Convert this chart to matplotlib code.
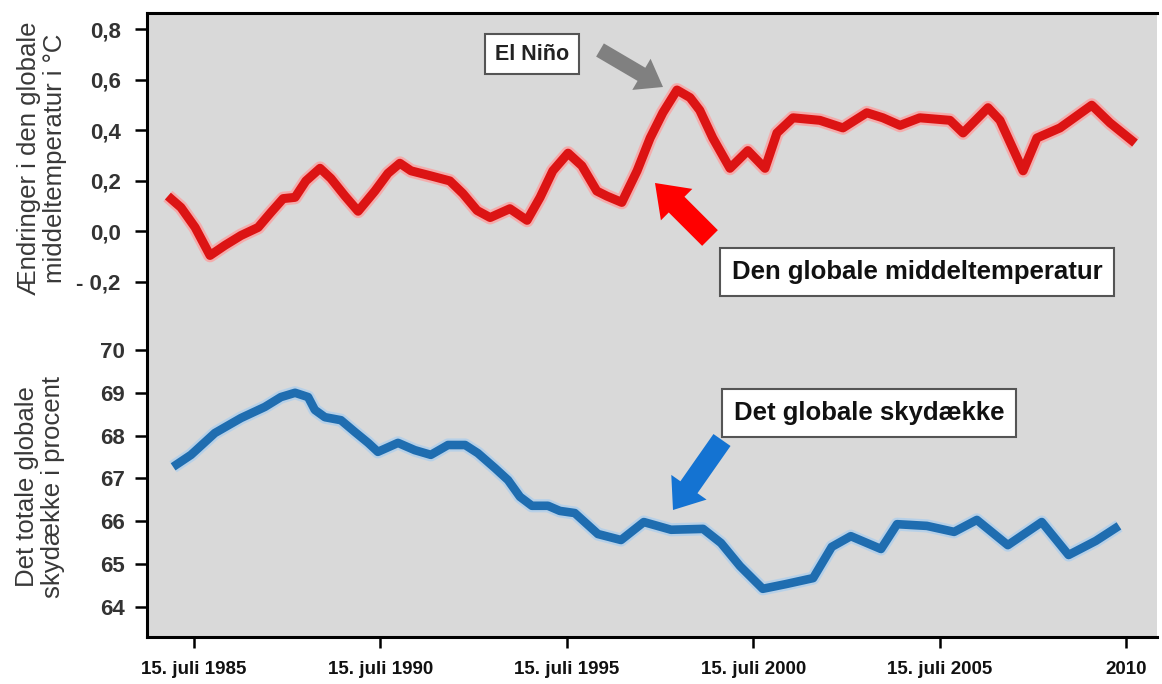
import matplotlib.pyplot as plt
from matplotlib import patheffects

# change in global mean temperature (deg C)
tempYears = [1984.84, 1985.19, 1985.57, 1985.97, 1986.37, 1986.80, 1987.26, 1987.60,
             1987.93, 1988.25, 1988.54, 1988.92, 1989.21, 1989.59, 1989.94, 1990.39,
             1990.74, 1991.06, 1991.36, 1991.89, 1992.40, 1992.75, 1993.13, 1993.48,
             1994.01, 1994.47, 1994.82, 1995.16, 1995.57, 1995.94, 1996.34, 1996.61,
             1997.01, 1997.42, 1997.77, 1998.11, 1998.49, 1998.84, 1999.10, 1999.45,
             1999.91, 2000.39, 2000.85, 2001.17, 2001.60, 2002.32, 2002.94, 2003.58,
             2004.01, 2004.47, 2005.00, 2005.81, 2006.16, 2006.83, 2007.15, 2007.77,
             2008.14, 2008.76, 2009.61, 2010.10, 2010.77]
tempValues = [0.14, 0.095, 0.016, -0.095, -0.055, -0.016, 0.016, 0.075,
              0.13, 0.135, 0.20, 0.25, 0.21, 0.14, 0.08, 0.16,
              0.23, 0.27, 0.24, 0.22, 0.20, 0.15, 0.083, 0.055,
              0.09, 0.044, 0.135, 0.24, 0.31, 0.26, 0.16, 0.14,
              0.115, 0.24, 0.37, 0.47, 0.56, 0.53, 0.48, 0.37,
              0.25, 0.32, 0.25, 0.39, 0.45, 0.44, 0.41, 0.47,
              0.45, 0.42, 0.45, 0.44, 0.39, 0.49, 0.44, 0.24,
              0.37, 0.41, 0.50, 0.43, 0.35]

# total global cloud cover (percent)
cloudYears = [1984.98, 1985.46, 1986.10, 1986.80, 1987.44, 1987.87, 1988.25, 1988.60,
              1988.78, 1989.05, 1989.48, 1989.86, 1990.21, 1990.47, 1991.01, 1991.46,
              1991.89, 1992.35, 1992.81, 1993.15, 1993.61, 1993.96, 1994.28, 1994.60,
              1995.03, 1995.35, 1995.75, 1996.37, 1996.99, 1997.60, 1998.33, 1999.19,
              1999.67, 2000.18, 2000.79, 2001.41, 2002.14, 2002.64, 2003.15, 2003.96,
              2004.39, 2005.19, 2005.92, 2006.53, 2007.36, 2008.27, 2008.99, 2009.72,
              2010.34]
cloudValues = [67.27, 67.55, 68.06, 68.41, 68.67, 68.90, 69.00, 68.90,
               68.60, 68.43, 68.36, 68.08, 67.83, 67.62, 67.83, 67.66,
               67.55, 67.78, 67.78, 67.59, 67.24, 66.96, 66.57, 66.36,
               66.36, 66.24, 66.19, 65.70, 65.56, 65.98, 65.80, 65.82,
               65.49, 64.95, 64.42, 64.53, 64.67, 65.40, 65.65, 65.35,
               65.93, 65.89, 65.75, 66.03, 65.44, 65.98, 65.21, 65.54,
               65.89]

tickYears = [1985, 1990, 1995, 2000, 2005, 2010]
tickLabels = ['15. juli 1985', '15. juli 1990', '15. juli 1995',
              '15. juli 2000', '15. juli 2005', '2010']
tempTicks = [-0.2, 0.0, 0.2, 0.4, 0.6, 0.8]
tempTickLabels = ['- 0,2', '0,0', '0,2', '0,4', '0,6', '0,8']
cloudTicks = [64, 65, 66, 67, 68, 69, 70]

W, H = 1162, 684
julyFifteenth = 0.54  # fraction of the year at 15 July


def figPos(x, y):
    # pixel position in the picture -> figure fraction
    return x / W, 1 - y / H


plt.rcParams['font.family'] = ['Liberation Sans', 'DejaVu Sans']

fig = plt.figure(figsize=(W / 100, H / 100), dpi=100)
ax = fig.add_axes([147 / W, 47 / H, 1010 / W, 624 / H])
ax.set_facecolor('#d9d9d9')
ax2 = ax.twinx()

# temperature on the upper half, cloud cover on the lower half
ax.set_xlim(1984.28, 2011.36)
ax.set_ylim(-1.606, 0.865)
ax2.set_ylim(63.294, 77.874)

redGlow = [patheffects.Stroke(linewidth=10, foreground='#ff9a9a', alpha=0.7), patheffects.Normal()]
blueGlow = [patheffects.Stroke(linewidth=9.5, foreground='#a9cdee', alpha=0.7), patheffects.Normal()]

ax.plot(tempYears, tempValues, color='#dc1414', linewidth=6.5,
        solid_joinstyle='round', solid_capstyle='butt', path_effects=redGlow)
ax2.plot(cloudYears, cloudValues, color='#1f6db0', linewidth=6.2,
         solid_joinstyle='round', solid_capstyle='butt', path_effects=blueGlow)

# axes frame
for side in ['left', 'bottom', 'top']:
    ax.spines[side].set_linewidth(2.2)
    ax.spines[side].set_color('black')
ax.spines['right'].set_visible(False)
for side in ax2.spines:
    ax2.spines[side].set_visible(False)

ax.set_xticks([y + julyFifteenth for y in tickYears])
ax.set_xticklabels(tickLabels, fontsize=13.5, fontweight='bold', color='#111111')
ax.tick_params(axis='x', direction='out', length=8, width=1.8, pad=9)

ax.set_yticks(tempTicks)
ax.set_yticklabels(tempTickLabels, fontsize=16, fontweight='bold', color='#333333')
ax.tick_params(axis='y', direction='out', length=9, width=1.8, pad=10)

ax2.yaxis.tick_left()
ax2.set_yticks(cloudTicks)
ax2.set_yticklabels([str(t) for t in cloudTicks], fontsize=16, fontweight='bold', color='#333333')
ax2.tick_params(axis='y', direction='out', length=9, width=1.8, pad=7)

# y-axis titles
fig.text(*figPos(42, 158), 'Ændringer i den globale\nmiddeltemperatur i °C', rotation=90,
         ha='center', va='center', multialignment='center', fontsize=18.5,
         color='#383838', linespacing=1.15)
fig.text(*figPos(40, 487), 'Det totale globale\nskydække i procent', rotation=90,
         ha='center', va='center', multialignment='center', fontsize=18.5,
         color='#383838', linespacing=1.15)

# labelled boxes
boxStyle = dict(boxstyle='square,pad=0.45', fc='white', ec='#555555', lw=1.5)
fig.text(*figPos(532, 54), 'El Niño', ha='center', va='center', fontsize=15.5,
         fontweight='bold', color='#222222', bbox=boxStyle)
fig.text(*figPos(917, 272), 'Den globale middeltemperatur', ha='center', va='center',
         fontsize=18.5, fontweight='bold', color='#111111', bbox=boxStyle)
fig.text(*figPos(869, 413), 'Det globale skydække', ha='center', va='center',
         fontsize=18.5, fontweight='bold', color='#111111', bbox=boxStyle)

# block arrows
def blockArrow(tail, tip, color, headLength, headWidth, tailWidth):
    ax2.annotate('', xy=figPos(*tip), xycoords='figure fraction',
                 xytext=figPos(*tail), textcoords='figure fraction',
                 arrowprops=dict(arrowstyle='simple,head_length=%s,head_width=%s,tail_width=%s'
                                 % (headLength, headWidth, tailWidth),
                                 fc=color, ec='none', shrinkA=0, shrinkB=0, mutation_scale=20))


blockArrow((600, 50), (663, 87), '#808080', 0.9, 1.3, 0.55)
blockArrow((710, 238), (655, 183), '#ff0000', 1.1, 1.6, 0.8)
blockArrow((722, 440), (673, 510), '#1473d2', 1.0, 1.55, 0.75)

fig.savefig('out.png', dpi=100)
